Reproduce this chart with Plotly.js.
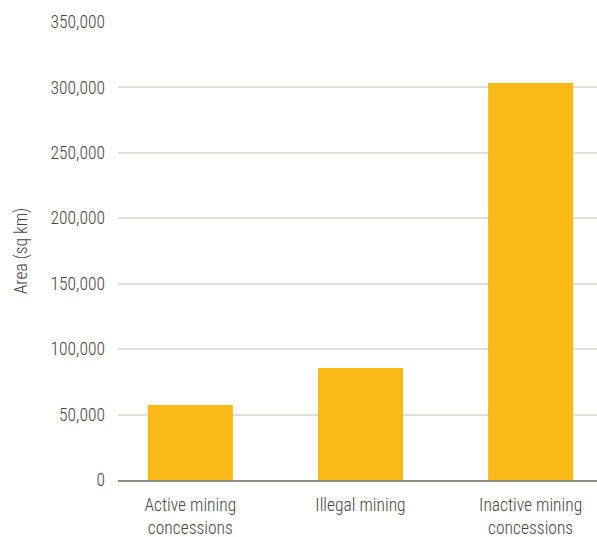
<!DOCTYPE html>
<html><head><meta charset="utf-8">
<script src="https://cdn.plot.ly/plotly-3.0.1.min.js"></script>
<style>html,body{margin:0;padding:0;background:#fff;}</style>
</head><body>
<div id="chart" style="width:597px;height:537px;"></div>
<script>
const categories = ["Active mining<br>concessions", "Illegal mining", "Inactive mining<br>concessions"];
const areaSqKm = [57300, 85600, 303400];
const yTicks = [0, 50000, 100000, 150000, 200000, 250000, 300000, 350000];

const trace = {
  type: 'bar',
  x: [0, 1, 2],
  y: areaSqKm,
  width: 0.5,
  marker: {color: '#F9B916'},
  hoverinfo: 'skip'
};
const FONT = "'Roboto Condensed', Roboto, sans-serif";
const TXT = {family: FONT, size: 17.5, color: '#444', weight: 300};
const layout = {
  width: 597, height: 537,
  margin: {l: 118, r: 0, t: 22, b: 57},
  paper_bgcolor: '#fff', plot_bgcolor: '#fff',
  showlegend: false,
  font: TXT,
  xaxis: {
    range: [-0.425, 2.39],
    tickvals: [0, 1, 2],
    ticktext: categories,
    showgrid: false, zeroline: false,
    showline: true, linecolor: '#8c8c84', linewidth: 2,
    ticks: '', ticklabelstandoff: 8,
    tickfont: TXT,
    fixedrange: true
  },
  yaxis: {
    range: [0, 350000],
    tickvals: yTicks,
    tickformat: ',d',
    showgrid: true, gridcolor: '#e0e0da', gridwidth: 2,
    zeroline: false, showline: false, ticks: '',
    ticklabelstandoff: 12,
    tickfont: TXT,
    title: {text: 'Area (sq km)', font: TXT, standoff: 18},
    automargin: false
  }
};
Plotly.newPlot('chart', [trace], layout, {displayModeBar: false, staticPlot: true});
</script>
</body></html>
